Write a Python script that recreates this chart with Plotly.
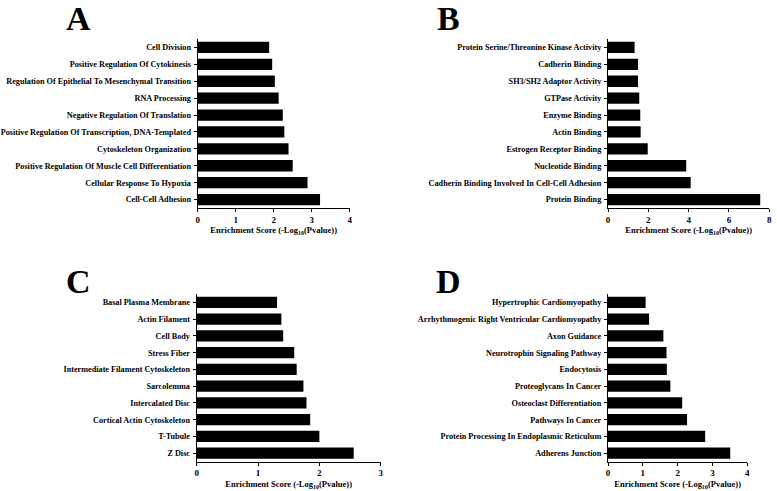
import plotly.graph_objects as go

# panel A - biological process
a_terms = [
    "Cell Division",
    "Positive Regulation Of Cytokinesis",
    "Regulation Of Epithelial To Mesenchymal Transition",
    "RNA Processing",
    "Negative Regulation Of Translation",
    "Positive Regulation Of Transcription, DNA-Templated",
    "Cytoskeleton Organization",
    "Positive Regulation Of Muscle Cell Differentiation",
    "Cellular Response To Hypoxia",
    "Cell-Cell Adhesion",
]
a_scores = [1.88, 1.96, 2.03, 2.13, 2.24, 2.28, 2.39, 2.50, 2.89, 3.22]
a_ticks = [0, 1, 2, 3, 4]

# panel B - molecular function
b_terms = [
    "Protein Serine/Threonine Kinase Activity",
    "Cadherin Binding",
    "SH3/SH2 Adaptor Activity",
    "GTPase Activity",
    "Enzyme Binding",
    "Actin Binding",
    "Estrogen Receptor Binding",
    "Nucleotide Binding",
    "Cadherin Binding Involved In Cell-Cell Adhesion",
    "Protein Binding",
]
b_scores = [1.32, 1.49, 1.49, 1.55, 1.60, 1.62, 1.97, 3.88, 4.10, 7.55]
b_ticks = [0, 2, 4, 6, 8]

# panel C - cellular component
c_terms = [
    "Basal Plasma Membrane",
    "Actin Filament",
    "Cell Body",
    "Stress Fiber",
    "Intermediate Filament Cytoskeleton",
    "Sarcolemma",
    "Intercalated Disc",
    "Cortical Actin Cytoskeleton",
    "T-Tubule",
    "Z Disc",
]
c_scores = [1.31, 1.38, 1.41, 1.59, 1.63, 1.74, 1.79, 1.85, 2.00, 2.56]
c_ticks = [0, 1, 2, 3]

# panel D - KEGG pathways
d_terms = [
    "Hypertrophic Cardiomyopathy",
    "Arrhythmogenic Right Ventricular Cardiomyopathy",
    "Axon Guidance",
    "Neurotrophin Signaling Pathway",
    "Endocytosis",
    "Proteoglycans In Cancer",
    "Osteoclast Differentiation",
    "Pathways In Cancer",
    "Protein Processing In Endoplasmic Reticulum",
    "Adherens Junction",
]
d_scores = [1.08, 1.18, 1.59, 1.68, 1.69, 1.79, 2.13, 2.27, 2.79, 3.51]
d_ticks = [0, 1, 2, 3, 4]

panel_letters = ["A", "B", "C", "D"]

FONT = "Liberation Serif"
W, H = 777, 491

# pixel boxes of each plot area (x0, x1, ytop, ybottom)
boxes = [
    (197.7, 349.7, 39.0, 208.0),
    (608.0, 769.3, 39.0, 208.0),
    (196.7, 380.7, 294.0, 461.5),
    (608.0, 747.3, 294.0, 461.5),
]
letter_pos = [(78, 19), (448, 19), (78, 281), (448, 281)]

panels = [
    (a_terms, a_scores, a_ticks),
    (b_terms, b_scores, b_ticks),
    (c_terms, c_scores, c_ticks),
    (d_terms, d_scores, d_ticks),
]

fig = go.Figure()
layout = {}
for i, (terms, scores, ticks) in enumerate(panels):
    n = i + 1
    sx = "" if n == 1 else str(n)
    fig.add_trace(go.Bar(
        x=scores, y=terms, orientation="h",
        marker=dict(color="black", line=dict(width=0)),
        width=0.67,
        xaxis="x" + sx, yaxis="y" + sx,
        showlegend=False,
    ))
    x0, x1, yt, yb = boxes[i]
    layout["xaxis" + sx] = dict(
        domain=[x0 / W, x1 / W],
        anchor="y" + sx,
        automargin=False,
        range=[0, ticks[-1]],
        tickvals=ticks,
        showgrid=False, zeroline=False,
        showline=True, linecolor="black", linewidth=1.2,
        ticks="outside", ticklen=3, tickwidth=1.2, tickcolor="black",
        tickfont=dict(family=FONT, size=9, color="black", weight="bold"),
        title=dict(
            text="Enrichment Score (-Log<sub>10</sub>(Pvalue))",
            font=dict(family=FONT, size=8.5, color="black", weight="bold"),
            standoff=3,
        ),
    )
    layout["yaxis" + sx] = dict(
        domain=[1 - yb / H, 1 - yt / H],
        anchor="x" + sx,
        automargin=False,
        type="category",
        categoryorder="array", categoryarray=terms,
        range=[len(terms) - 0.5, -0.5],
        showgrid=False, zeroline=False,
        showline=True, linecolor="black", linewidth=1.2,
        ticks="outside", ticklen=3, tickwidth=1.2, tickcolor="black",
        ticklabelstandoff=1,
        tickfont=dict(family=FONT, size=8.2, color="black", weight="bold"),
    )

annotations = []
for letter, (lx, ly) in zip(panel_letters, letter_pos):
    annotations.append(dict(
        text=letter, x=lx / W, y=1 - ly / H, xref="paper", yref="paper",
        showarrow=False, xanchor="center", yanchor="middle",
        font=dict(family=FONT, size=34, color="black", weight="bold"),
    ))

fig.update_layout(
    width=W, height=H,
    margin=dict(l=0, r=0, t=0, b=0),
    paper_bgcolor="white", plot_bgcolor="white",
    bargap=0.33,
    annotations=annotations,
    **layout,
)

# page body has a default 8px margin, drop it so the figure fills the window
fig.write_html(
    "out.html",
    config={"displayModeBar": False},
    post_script="document.body.style.margin='0';",
)
